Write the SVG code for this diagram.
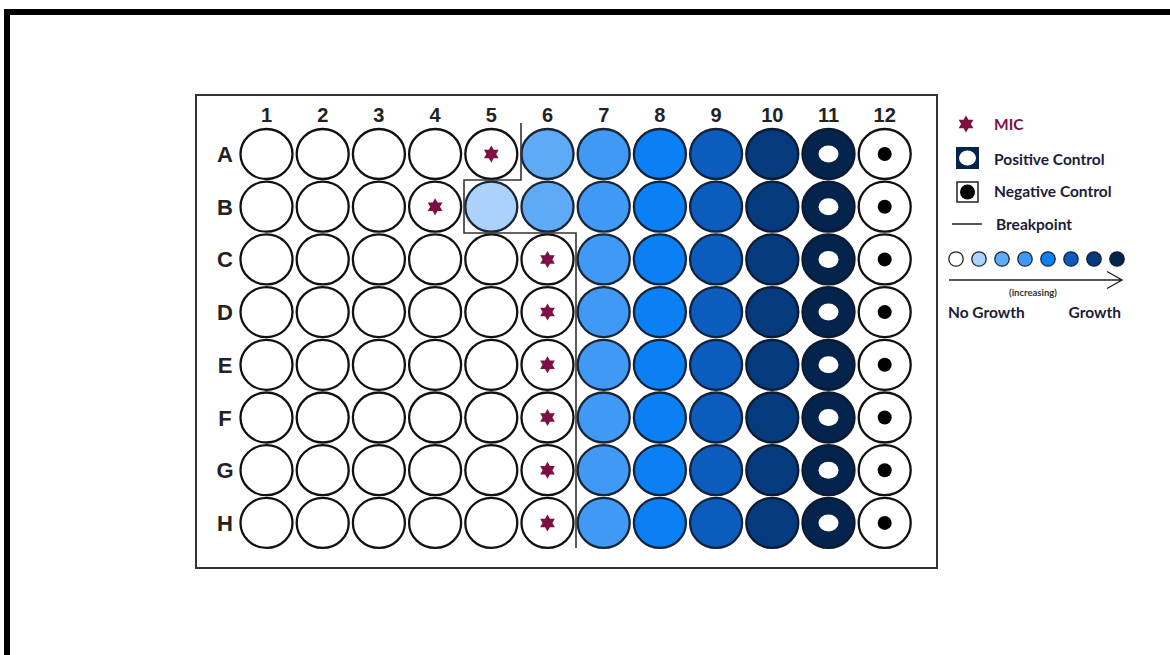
<svg xmlns="http://www.w3.org/2000/svg" xmlns:xlink="http://www.w3.org/1999/xlink" width="1170" height="655" viewBox="0 0 1170 655">
<style>
.lbl{font-family:"Liberation Sans",Arial,sans-serif;font-weight:bold;fill:#222;text-anchor:middle}
.num{font-size:20px}
.row{font-size:22px}
.w{stroke:#111;stroke-width:2.3}
.e{fill:#fff}
.b5{fill:#aad2fa;stroke:#1a2535}
.c6{fill:#5eaaf6;stroke:#1a2535}
.c7{fill:#4199f6;stroke:#1a2535}
.c8{fill:#0b80f4;stroke:#13233a}
.c9{fill:#0b5cbd;stroke:#13233a}
.c10{fill:#053a7c;stroke:#0d1a30}
.c11{fill:#04234d;stroke:#0d1a30}
.hole{fill:#fff}
.dot{fill:#000}
.star{fill:#7d0f45}
.leg{font-family:Lato,"Open Sans","Liberation Sans",sans-serif;font-weight:bold;font-size:15.5px;fill:#1c1c38}
</style>
<defs>
<path id="st" d="M0,-8.5 L2.45,-4.25 7.36,-4.25 4.9,0 7.36,4.25 2.45,4.25 0,8.5 -2.45,4.25 -7.36,4.25 -4.9,0 -7.36,-4.25 -2.45,-4.25Z"/>
</defs>
<rect width="1170" height="655" fill="#fff"/>
<path d="M7,655 V12 H1170" fill="none" stroke="#000" stroke-width="6"/>
<rect x="196" y="95" width="741" height="473" fill="#fff" stroke="#333" stroke-width="2"/>
<g id="colnums" class="lbl num">
<text x="266.5" y="122">1</text><text x="322.7" y="122">2</text><text x="378.9" y="122">3</text><text x="435.1" y="122">4</text><text x="491.3" y="122">5</text><text x="547.5" y="122">6</text><text x="603.7" y="122">7</text><text x="659.9" y="122">8</text><text x="716.1" y="122">9</text><text x="772.3" y="122">10</text><text x="828.5" y="122">11</text><text x="884.7" y="122">12</text>
</g>
<g id="rowlabels" class="lbl row">
<text x="225" y="162">A</text><text x="225" y="214.7">B</text><text x="225" y="267.4">C</text><text x="225" y="320.1">D</text><text x="225" y="372.8">E</text><text x="225" y="425.5">F</text><text x="225" y="478.2">G</text><text x="225" y="530.9">H</text>
</g>
<g id="rowA" class="w">
<ellipse class="e" cx="266.5" cy="154" rx="26" ry="25"/><ellipse class="e" cx="322.7" cy="154" rx="26" ry="25"/><ellipse class="e" cx="378.9" cy="154" rx="26" ry="25"/><ellipse class="e" cx="435.1" cy="154" rx="26" ry="25"/><ellipse class="e" cx="491.3" cy="154" rx="26" ry="25"/><ellipse class="c6" cx="547.5" cy="154" rx="26" ry="25"/><ellipse class="c7" cx="603.7" cy="154" rx="26" ry="25"/><ellipse class="c8" cx="659.9" cy="154" rx="26" ry="25"/><ellipse class="c9" cx="716.1" cy="154" rx="26" ry="25"/><ellipse class="c10" cx="772.3" cy="154" rx="26" ry="25"/><ellipse class="c11" cx="828.5" cy="154" rx="26" ry="25"/><ellipse class="e" cx="884.7" cy="154" rx="26" ry="25"/>
<ellipse class="hole" stroke="none" cx="828.5" cy="154" rx="10" ry="8.5"/><circle class="dot" stroke="none" cx="884.7" cy="154" r="7"/>
<use href="#st" class="star" stroke="none" x="491.3" y="154"/>
</g>
<g id="rowB" class="w">
<ellipse class="e" cx="266.5" cy="206.7" rx="26" ry="25"/><ellipse class="e" cx="322.7" cy="206.7" rx="26" ry="25"/><ellipse class="e" cx="378.9" cy="206.7" rx="26" ry="25"/><ellipse class="e" cx="435.1" cy="206.7" rx="26" ry="25"/><ellipse class="b5" cx="491.3" cy="206.7" rx="26" ry="25"/><ellipse class="c6" cx="547.5" cy="206.7" rx="26" ry="25"/><ellipse class="c7" cx="603.7" cy="206.7" rx="26" ry="25"/><ellipse class="c8" cx="659.9" cy="206.7" rx="26" ry="25"/><ellipse class="c9" cx="716.1" cy="206.7" rx="26" ry="25"/><ellipse class="c10" cx="772.3" cy="206.7" rx="26" ry="25"/><ellipse class="c11" cx="828.5" cy="206.7" rx="26" ry="25"/><ellipse class="e" cx="884.7" cy="206.7" rx="26" ry="25"/>
<ellipse class="hole" stroke="none" cx="828.5" cy="206.7" rx="10" ry="8.5"/><circle class="dot" stroke="none" cx="884.7" cy="206.7" r="7"/>
<use href="#st" class="star" stroke="none" x="435.1" y="206.7"/>
</g>
<g id="rowC" class="w">
<ellipse class="e" cx="266.5" cy="259.4" rx="26" ry="25"/><ellipse class="e" cx="322.7" cy="259.4" rx="26" ry="25"/><ellipse class="e" cx="378.9" cy="259.4" rx="26" ry="25"/><ellipse class="e" cx="435.1" cy="259.4" rx="26" ry="25"/><ellipse class="e" cx="491.3" cy="259.4" rx="26" ry="25"/><ellipse class="e" cx="547.5" cy="259.4" rx="26" ry="25"/><ellipse class="c7" cx="603.7" cy="259.4" rx="26" ry="25"/><ellipse class="c8" cx="659.9" cy="259.4" rx="26" ry="25"/><ellipse class="c9" cx="716.1" cy="259.4" rx="26" ry="25"/><ellipse class="c10" cx="772.3" cy="259.4" rx="26" ry="25"/><ellipse class="c11" cx="828.5" cy="259.4" rx="26" ry="25"/><ellipse class="e" cx="884.7" cy="259.4" rx="26" ry="25"/>
<ellipse class="hole" stroke="none" cx="828.5" cy="259.4" rx="10" ry="8.5"/><circle class="dot" stroke="none" cx="884.7" cy="259.4" r="7"/>
<use href="#st" class="star" stroke="none" x="547.5" y="259.4"/>
</g>
<g id="rowD" class="w">
<ellipse class="e" cx="266.5" cy="312.1" rx="26" ry="25"/><ellipse class="e" cx="322.7" cy="312.1" rx="26" ry="25"/><ellipse class="e" cx="378.9" cy="312.1" rx="26" ry="25"/><ellipse class="e" cx="435.1" cy="312.1" rx="26" ry="25"/><ellipse class="e" cx="491.3" cy="312.1" rx="26" ry="25"/><ellipse class="e" cx="547.5" cy="312.1" rx="26" ry="25"/><ellipse class="c7" cx="603.7" cy="312.1" rx="26" ry="25"/><ellipse class="c8" cx="659.9" cy="312.1" rx="26" ry="25"/><ellipse class="c9" cx="716.1" cy="312.1" rx="26" ry="25"/><ellipse class="c10" cx="772.3" cy="312.1" rx="26" ry="25"/><ellipse class="c11" cx="828.5" cy="312.1" rx="26" ry="25"/><ellipse class="e" cx="884.7" cy="312.1" rx="26" ry="25"/>
<ellipse class="hole" stroke="none" cx="828.5" cy="312.1" rx="10" ry="8.5"/><circle class="dot" stroke="none" cx="884.7" cy="312.1" r="7"/>
<use href="#st" class="star" stroke="none" x="547.5" y="312.1"/>
</g>
<g id="rowE" class="w">
<ellipse class="e" cx="266.5" cy="364.8" rx="26" ry="25"/><ellipse class="e" cx="322.7" cy="364.8" rx="26" ry="25"/><ellipse class="e" cx="378.9" cy="364.8" rx="26" ry="25"/><ellipse class="e" cx="435.1" cy="364.8" rx="26" ry="25"/><ellipse class="e" cx="491.3" cy="364.8" rx="26" ry="25"/><ellipse class="e" cx="547.5" cy="364.8" rx="26" ry="25"/><ellipse class="c7" cx="603.7" cy="364.8" rx="26" ry="25"/><ellipse class="c8" cx="659.9" cy="364.8" rx="26" ry="25"/><ellipse class="c9" cx="716.1" cy="364.8" rx="26" ry="25"/><ellipse class="c10" cx="772.3" cy="364.8" rx="26" ry="25"/><ellipse class="c11" cx="828.5" cy="364.8" rx="26" ry="25"/><ellipse class="e" cx="884.7" cy="364.8" rx="26" ry="25"/>
<ellipse class="hole" stroke="none" cx="828.5" cy="364.8" rx="10" ry="8.5"/><circle class="dot" stroke="none" cx="884.7" cy="364.8" r="7"/>
<use href="#st" class="star" stroke="none" x="547.5" y="364.8"/>
</g>
<g id="rowF" class="w">
<ellipse class="e" cx="266.5" cy="417.5" rx="26" ry="25"/><ellipse class="e" cx="322.7" cy="417.5" rx="26" ry="25"/><ellipse class="e" cx="378.9" cy="417.5" rx="26" ry="25"/><ellipse class="e" cx="435.1" cy="417.5" rx="26" ry="25"/><ellipse class="e" cx="491.3" cy="417.5" rx="26" ry="25"/><ellipse class="e" cx="547.5" cy="417.5" rx="26" ry="25"/><ellipse class="c7" cx="603.7" cy="417.5" rx="26" ry="25"/><ellipse class="c8" cx="659.9" cy="417.5" rx="26" ry="25"/><ellipse class="c9" cx="716.1" cy="417.5" rx="26" ry="25"/><ellipse class="c10" cx="772.3" cy="417.5" rx="26" ry="25"/><ellipse class="c11" cx="828.5" cy="417.5" rx="26" ry="25"/><ellipse class="e" cx="884.7" cy="417.5" rx="26" ry="25"/>
<ellipse class="hole" stroke="none" cx="828.5" cy="417.5" rx="10" ry="8.5"/><circle class="dot" stroke="none" cx="884.7" cy="417.5" r="7"/>
<use href="#st" class="star" stroke="none" x="547.5" y="417.5"/>
</g>
<g id="rowG" class="w">
<ellipse class="e" cx="266.5" cy="470.2" rx="26" ry="25"/><ellipse class="e" cx="322.7" cy="470.2" rx="26" ry="25"/><ellipse class="e" cx="378.9" cy="470.2" rx="26" ry="25"/><ellipse class="e" cx="435.1" cy="470.2" rx="26" ry="25"/><ellipse class="e" cx="491.3" cy="470.2" rx="26" ry="25"/><ellipse class="e" cx="547.5" cy="470.2" rx="26" ry="25"/><ellipse class="c7" cx="603.7" cy="470.2" rx="26" ry="25"/><ellipse class="c8" cx="659.9" cy="470.2" rx="26" ry="25"/><ellipse class="c9" cx="716.1" cy="470.2" rx="26" ry="25"/><ellipse class="c10" cx="772.3" cy="470.2" rx="26" ry="25"/><ellipse class="c11" cx="828.5" cy="470.2" rx="26" ry="25"/><ellipse class="e" cx="884.7" cy="470.2" rx="26" ry="25"/>
<ellipse class="hole" stroke="none" cx="828.5" cy="470.2" rx="10" ry="8.5"/><circle class="dot" stroke="none" cx="884.7" cy="470.2" r="7"/>
<use href="#st" class="star" stroke="none" x="547.5" y="470.2"/>
</g>
<g id="rowH" class="w">
<ellipse class="e" cx="266.5" cy="522.9" rx="26" ry="25"/><ellipse class="e" cx="322.7" cy="522.9" rx="26" ry="25"/><ellipse class="e" cx="378.9" cy="522.9" rx="26" ry="25"/><ellipse class="e" cx="435.1" cy="522.9" rx="26" ry="25"/><ellipse class="e" cx="491.3" cy="522.9" rx="26" ry="25"/><ellipse class="e" cx="547.5" cy="522.9" rx="26" ry="25"/><ellipse class="c7" cx="603.7" cy="522.9" rx="26" ry="25"/><ellipse class="c8" cx="659.9" cy="522.9" rx="26" ry="25"/><ellipse class="c9" cx="716.1" cy="522.9" rx="26" ry="25"/><ellipse class="c10" cx="772.3" cy="522.9" rx="26" ry="25"/><ellipse class="c11" cx="828.5" cy="522.9" rx="26" ry="25"/><ellipse class="e" cx="884.7" cy="522.9" rx="26" ry="25"/>
<ellipse class="hole" stroke="none" cx="828.5" cy="522.9" rx="10" ry="8.5"/><circle class="dot" stroke="none" cx="884.7" cy="522.9" r="7"/>
<use href="#st" class="star" stroke="none" x="547.5" y="522.9"/>
</g>
<g id="breakpoint">
<path d="M521,123 V180 H464 V233 H576 V548" fill="none" stroke="#333" stroke-width="1.6"/>
</g>
<g id="legend">
<use href="#st" class="star" x="966" y="124"/>
<text class="leg" x="994" y="129.5" style="fill:#7d0f45">MIC</text>
<rect x="956" y="147" width="23" height="22" fill="#04234d"/>
<ellipse cx="967.5" cy="158" rx="8.5" ry="7.5" fill="#fff"/>
<text class="leg" x="994" y="165">Positive Control</text>
<rect x="957" y="182" width="21" height="20" fill="#fff" stroke="#222" stroke-width="1.5"/>
<circle cx="967.5" cy="192" r="7.5" fill="#000"/>
<text class="leg" x="994" y="197">Negative Control</text>
<line x1="952" y1="224" x2="982" y2="224" stroke="#222" stroke-width="1.5"/>
<text class="leg" x="996" y="229.5">Breakpoint</text>
<g stroke-width="1.3">
<circle cx="956" cy="259" r="7.2" fill="#fff" stroke="#222"/>
<circle cx="979" cy="259" r="7.2" fill="#aad2fa" stroke="#1a2535"/>
<circle cx="1002" cy="259" r="7.2" fill="#5eaaf6" stroke="#1a2535"/>
<circle cx="1025" cy="259" r="7.2" fill="#4199f6" stroke="#1a2535"/>
<circle cx="1048" cy="259" r="7.2" fill="#0b80f4" stroke="#13233a"/>
<circle cx="1071" cy="259" r="7.2" fill="#0b5cbd" stroke="#13233a"/>
<circle cx="1094" cy="259" r="7.2" fill="#053a7c" stroke="#0d1a30"/>
<circle cx="1117" cy="259" r="7.2" fill="#04234d" stroke="#0d1a30"/>
</g>
<path d="M949,280 H1122 M1107,271.5 L1122,280 L1107,288.5" fill="none" stroke="#222" stroke-width="1.4"/>
<text class="leg" x="1033" y="296" text-anchor="middle" style="font-size:9.5px;fill:#333">(increasing)</text>
<text class="leg" x="948" y="317.5">No Growth</text>
<text class="leg" x="1121" y="317.5" text-anchor="end">Growth</text>
</g>
</svg>
